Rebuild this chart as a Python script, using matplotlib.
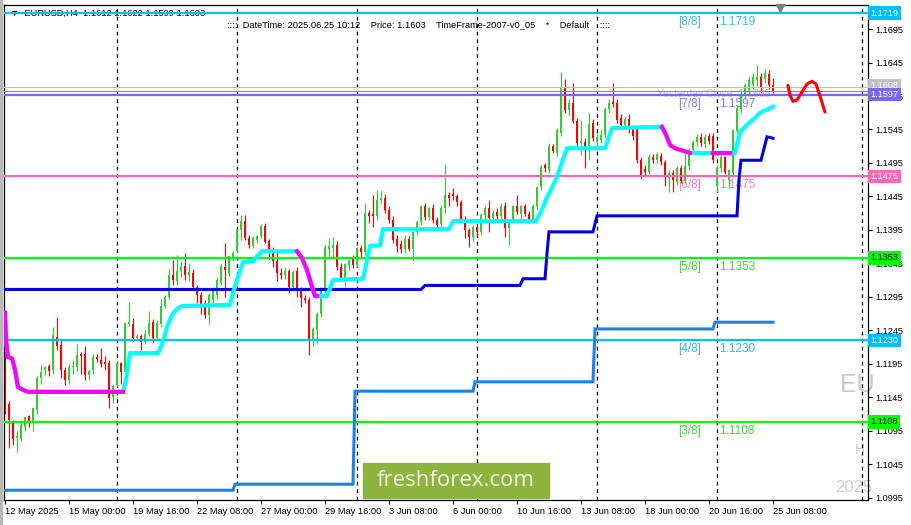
import matplotlib
matplotlib.use("Agg")
import matplotlib.pyplot as plt
import matplotlib.transforms as mtransforms
from matplotlib.patches import Rectangle
import numpy as np

plt.rcParams["font.family"] = ["Liberation Sans", "DejaVu Sans"]

# ── EURUSD H4 candles (open, high, low, close), one list per trading week ──
wk_may12 = [
    (1.1265, 1.1272, 1.1120, 1.1135), (1.1135, 1.1140, 1.1069, 1.1111),
    (1.1106, 1.1111, 1.1074, 1.1083), (1.1084, 1.1095, 1.1063, 1.1087),
    (1.1083, 1.1111, 1.1080, 1.1104), (1.1100, 1.1116, 1.1094, 1.1115),
    (1.1117, 1.1119, 1.1100, 1.1110), (1.1109, 1.1131, 1.1095, 1.1129),
    (1.1126, 1.1177, 1.1120, 1.1174), (1.1174, 1.1193, 1.1165, 1.1183),
    (1.1185, 1.1192, 1.1178, 1.1190), (1.1192, 1.1195, 1.1177, 1.1184),
    (1.1185, 1.1250, 1.1180, 1.1238), (1.1235, 1.1265, 1.1216, 1.1222),
    (1.1223, 1.1230, 1.1174, 1.1185), (1.1186, 1.1190, 1.1163, 1.1171),
    (1.1170, 1.1195, 1.1165, 1.1190), (1.1190, 1.1200, 1.1180, 1.1192),
    (1.1190, 1.1224, 1.1184, 1.1208), (1.1210, 1.1212, 1.1180, 1.1206),
    (1.1209, 1.1222, 1.1170, 1.1178), (1.1178, 1.1187, 1.1170, 1.1184),
    (1.1185, 1.1210, 1.1180, 1.1205), (1.1205, 1.1210, 1.1197, 1.1202),
    (1.1201, 1.1219, 1.1190, 1.1195), (1.1198, 1.1207, 1.1185, 1.1195),
    (1.1196, 1.1200, 1.1129, 1.1144), (1.1145, 1.1165, 1.1137, 1.1162),
]
wk_may19 = [
    (1.1163, 1.1198, 1.1160, 1.1196), (1.1196, 1.1198, 1.1165, 1.1183),
    (1.1183, 1.1258, 1.1180, 1.1256), (1.1255, 1.1287, 1.1252, 1.1257),
    (1.1255, 1.1264, 1.1229, 1.1234), (1.1233, 1.1240, 1.1230, 1.1237),
    (1.1237, 1.1240, 1.1215, 1.1227), (1.1228, 1.1247, 1.1225, 1.1240),
    (1.1240, 1.1274, 1.1237, 1.1256), (1.1257, 1.1262, 1.1227, 1.1233),
    (1.1234, 1.1260, 1.1230, 1.1256), (1.1255, 1.1292, 1.1250, 1.1282),
    (1.1282, 1.1297, 1.1278, 1.1295), (1.1295, 1.1337, 1.1292, 1.1328),
    (1.1328, 1.1350, 1.1313, 1.1320), (1.1318, 1.1357, 1.1313, 1.1334),
    (1.1334, 1.1349, 1.1324, 1.1340), (1.1341, 1.1360, 1.1320, 1.1328),
    (1.1328, 1.1345, 1.1318, 1.1332), (1.1331, 1.1336, 1.1306, 1.1310),
    (1.1310, 1.1313, 1.1285, 1.1298), (1.1298, 1.1302, 1.1270, 1.1283),
    (1.1285, 1.1290, 1.1263, 1.1268), (1.1268, 1.1300, 1.1255, 1.1297),
    (1.1290, 1.1310, 1.1285, 1.1307), (1.1297, 1.1325, 1.1292, 1.1320),
    (1.1316, 1.1345, 1.1312, 1.1341), (1.1340, 1.1375, 1.1295, 1.1335),
    (1.1330, 1.1358, 1.1326, 1.1356), (1.1355, 1.1363, 1.1348, 1.1360),
]
wk_may26 = [
    (1.1363, 1.1397, 1.1360, 1.1395), (1.1395, 1.1417, 1.1380, 1.1408),
    (1.1408, 1.1417, 1.1380, 1.1383), (1.1383, 1.1388, 1.1368, 1.1373),
    (1.1371, 1.1386, 1.1368, 1.1383), (1.1380, 1.1388, 1.1376, 1.1386),
    (1.1386, 1.1404, 1.1383, 1.1401), (1.1401, 1.1406, 1.1375, 1.1377),
    (1.1378, 1.1382, 1.1352, 1.1360), (1.1362, 1.1370, 1.1340, 1.1348),
    (1.1348, 1.1365, 1.1318, 1.1330), (1.1331, 1.1338, 1.1322, 1.1328),
    (1.1327, 1.1340, 1.1322, 1.1333), (1.1333, 1.1337, 1.1300, 1.1310),
    (1.1310, 1.1335, 1.1305, 1.1332), (1.1333, 1.1340, 1.1295, 1.1305),
    (1.1305, 1.1310, 1.1280, 1.1293), (1.1293, 1.1298, 1.1285, 1.1290),
    (1.1290, 1.1295, 1.1208, 1.1232), (1.1232, 1.1250, 1.1222, 1.1247),
    (1.1246, 1.1272, 1.1225, 1.1270), (1.1270, 1.1310, 1.1265, 1.1308),
    (1.1308, 1.1372, 1.1300, 1.1370), (1.1366, 1.1383, 1.1353, 1.1371),
    (1.1368, 1.1385, 1.1353, 1.1373), (1.1372, 1.1378, 1.1335, 1.1340),
    (1.1340, 1.1345, 1.1318, 1.1320), (1.1320, 1.1346, 1.1310, 1.1344),
    (1.1342, 1.1352, 1.1335, 1.1349), (1.1351, 1.1358, 1.1338, 1.1343),
]
wk_jun02 = [
    (1.1343, 1.1370, 1.1340, 1.1368), (1.1368, 1.1372, 1.1355, 1.1362),
    (1.1362, 1.1435, 1.1358, 1.1420), (1.1420, 1.1425, 1.1405, 1.1416),
    (1.1419, 1.1447, 1.1400, 1.1416), (1.1416, 1.1455, 1.1410, 1.1440),
    (1.1440, 1.1453, 1.1434, 1.1443), (1.1443, 1.1448, 1.1420, 1.1425),
    (1.1425, 1.1430, 1.1405, 1.1410), (1.1410, 1.1415, 1.1375, 1.1380),
    (1.1382, 1.1388, 1.1362, 1.1371), (1.1374, 1.1380, 1.1360, 1.1366),
    (1.1366, 1.1388, 1.1360, 1.1382), (1.1382, 1.1386, 1.1364, 1.1367),
    (1.1367, 1.1392, 1.1350, 1.1392), (1.1392, 1.1410, 1.1388, 1.1407),
    (1.1407, 1.1432, 1.1403, 1.1430), (1.1430, 1.1435, 1.1410, 1.1414),
    (1.1414, 1.1430, 1.1410, 1.1427), (1.1428, 1.1433, 1.1405, 1.1410),
    (1.1410, 1.1414, 1.1400, 1.1403), (1.1404, 1.1432, 1.1400, 1.1428),
    (1.1428, 1.1494, 1.1420, 1.1447), (1.1447, 1.1452, 1.1430, 1.1442),
    (1.1448, 1.1458, 1.1440, 1.1445), (1.1445, 1.1449, 1.1430, 1.1436),
    (1.1437, 1.1440, 1.1405, 1.1412), (1.1412, 1.1415, 1.1383, 1.1395),
    (1.1395, 1.1398, 1.1369, 1.1384), (1.1384, 1.1402, 1.1378, 1.1399),
]
wk_jun09 = [
    (1.1399, 1.1405, 1.1385, 1.1392), (1.1392, 1.1420, 1.1388, 1.1417),
    (1.1417, 1.1430, 1.1412, 1.1428), (1.1428, 1.1440, 1.1392, 1.1413),
    (1.1413, 1.1425, 1.1408, 1.1420), (1.1421, 1.1428, 1.1410, 1.1416),
    (1.1416, 1.1435, 1.1412, 1.1431), (1.1431, 1.1436, 1.1385, 1.1398),
    (1.1398, 1.1412, 1.1372, 1.1411), (1.1411, 1.1432, 1.1405, 1.1430),
    (1.1430, 1.1447, 1.1418, 1.1422), (1.1418, 1.1432, 1.1405, 1.1430),
    (1.1430, 1.1434, 1.1415, 1.1419), (1.1419, 1.1423, 1.1405, 1.1411),
    (1.1411, 1.1433, 1.1406, 1.1430), (1.1430, 1.1460, 1.1425, 1.1459),
    (1.1459, 1.1492, 1.1455, 1.1489), (1.1492, 1.1495, 1.1482, 1.1487),
    (1.1485, 1.1525, 1.1480, 1.1520), (1.1520, 1.1524, 1.1510, 1.1513),
    (1.1510, 1.1547, 1.1505, 1.1544), (1.1540, 1.1631, 1.1535, 1.1608),
    (1.1608, 1.1620, 1.1570, 1.1574), (1.1574, 1.1590, 1.1565, 1.1584),
    (1.1584, 1.1615, 1.1555, 1.1557), (1.1557, 1.1562, 1.1518, 1.1525),
    (1.1525, 1.1559, 1.1507, 1.1528), (1.1527, 1.1532, 1.1487, 1.1515),
    (1.1515, 1.1569, 1.1499, 1.1553), (1.1554, 1.1560, 1.1528, 1.1532),
]
wk_jun16 = [
    (1.1527, 1.1540, 1.1520, 1.1534), (1.1530, 1.1545, 1.1525, 1.1537),
    (1.1537, 1.1578, 1.1532, 1.1575), (1.1575, 1.1590, 1.1570, 1.1584),
    (1.1586, 1.1615, 1.1578, 1.1583), (1.1585, 1.1590, 1.1555, 1.1559),
    (1.1562, 1.1568, 1.1548, 1.1552), (1.1552, 1.1565, 1.1548, 1.1561),
    (1.1561, 1.1568, 1.1540, 1.1548), (1.1548, 1.1552, 1.1530, 1.1535),
    (1.1545, 1.1550, 1.1495, 1.1499), (1.1499, 1.1504, 1.1472, 1.1477),
    (1.1486, 1.1492, 1.1475, 1.1481), (1.1481, 1.1508, 1.1478, 1.1504),
    (1.1504, 1.1508, 1.1495, 1.1499), (1.1499, 1.1512, 1.1495, 1.1508),
    (1.1506, 1.1510, 1.1492, 1.1497), (1.1497, 1.1500, 1.1460, 1.1477),
    (1.1472, 1.1485, 1.1452, 1.1480), (1.1480, 1.1484, 1.1452, 1.1470),
    (1.1466, 1.1490, 1.1462, 1.1488), (1.1488, 1.1492, 1.1465, 1.1468),
    (1.1468, 1.1510, 1.1465, 1.1490), (1.1490, 1.1518, 1.1485, 1.1515),
    (1.1514, 1.1530, 1.1510, 1.1526), (1.1526, 1.1538, 1.1520, 1.1534),
    (1.1534, 1.1540, 1.1520, 1.1525), (1.1524, 1.1538, 1.1518, 1.1534),
    (1.1536, 1.1540, 1.1524, 1.1528), (1.1536, 1.1540, 1.1495, 1.1499),
]
wk_jun23 = [
    (1.1460, 1.1490, 1.1452, 1.1487), (1.1487, 1.1508, 1.1482, 1.1504),
    (1.1504, 1.1506, 1.1478, 1.1481), (1.1470, 1.1486, 1.1458, 1.1484),
    (1.1480, 1.1546, 1.1476, 1.1544), (1.1542, 1.1580, 1.1538, 1.1577),
    (1.1576, 1.1602, 1.1570, 1.1598), (1.1598, 1.1615, 1.1590, 1.1611),
    (1.1604, 1.1625, 1.1598, 1.1619), (1.1611, 1.1630, 1.1605, 1.1623),
    (1.1619, 1.1641, 1.1610, 1.1624), (1.1623, 1.1630, 1.1600, 1.1608),
    (1.1620, 1.1636, 1.1615, 1.1629), (1.1628, 1.1634, 1.1605, 1.1612),
    (1.1612, 1.1622, 1.1599, 1.1603),
]

# trailing stop line (bar index, price); spans in dn_spans are drawn magenta
trail_k = [0, 0.25, 0.75, 1.75, 2.5, 3.25, 4.5, 5.75, 29.5, 30.25, 30.75, 31.25,
           38.25, 39, 39.75, 40.5, 41.75, 43.25, 44.25, 56.25, 57, 58, 59.5, 62,
           63.25, 64.25, 73, 74.25, 75.5, 76.75, 77.5, 78, 80.5, 81.25, 82, 89.5,
           90.25, 91.25, 93.75, 94.5, 111, 112, 132.75, 134.25, 135.5, 136.75, 138,
           139.25, 140.5, 150, 151, 151.75, 164.25, 165.25, 166.25, 167.5, 171.25,
           177, 181.25, 182.5, 183.75, 185, 186.25, 187.5, 188.75, 190.25, 192]
trail_p = [1.1271, 1.1230, 1.1205, 1.1203, 1.1186, 1.1160, 1.1156, 1.1153, 1.1153,
           1.1171, 1.1193, 1.1211, 1.1211, 1.1220, 1.1233, 1.1250, 1.1268, 1.1278,
           1.1281, 1.1283, 1.1301, 1.1320, 1.1347, 1.1348, 1.1357, 1.1363, 1.1363,
           1.1353, 1.1335, 1.1310, 1.1296, 1.1296, 1.1296, 1.1308, 1.1320, 1.1322,
           1.1342, 1.1371, 1.1372, 1.1396, 1.1396, 1.1408, 1.1408, 1.1425, 1.1444,
           1.1458, 1.1474, 1.1496, 1.1517, 1.1517, 1.1534, 1.1547, 1.1549, 1.1537,
           1.1522, 1.1517, 1.1510, 1.1510, 1.1510, 1.1510, 1.1541, 1.1549, 1.1556,
           1.1562, 1.1570, 1.1574, 1.1579]
dn_spans = [(0, 29.5), (73, 78), (164.25, 171.25), (177, 181.25)]

# step lines
blue_k = [0, 104, 105, 128.75, 129.5, 135, 135.5, 136, 147, 148, 183, 183.5, 184,
          189, 190.5, 192]
blue_p = [1.1306, 1.1306, 1.1312, 1.1312, 1.1322, 1.1322, 1.1360, 1.1392, 1.1392,
          1.1416, 1.1416, 1.1470, 1.1499, 1.1499, 1.1534, 1.1532]
dodger_k = [0, 57, 57.5, 87, 87.5, 117, 117.5, 147, 147.5, 177, 177.5, 192]
dodger_p = [1.1006, 1.1006, 1.1015, 1.1015, 1.1154, 1.1154, 1.1168, 1.1168,
            1.1247, 1.1247, 1.1257, 1.1257]

# forecast scribble
fc_k = [195.75, 196.25, 197, 198, 199.25, 200.5, 201.75, 202.75, 203.75, 205]
fc_p = [1.1611, 1.1596, 1.1587, 1.1589, 1.1601, 1.1613, 1.1617, 1.1613, 1.1595, 1.1571]

# Murrey levels
mm_names = ["[8/8]", "[7/8]", "[6/8]", "[5/8]", "[4/8]", "[3/8]"]
mm_levels = [1.1719, 1.1597, 1.1475, 1.1353, 1.1230, 1.1108]
mm_colors = ["#00BFFF", "#7B68EE", "#FF69B4", "#00FF00", "#00BFFF", "#00FF00"]
mm_text_colors = ["#3DB4FF", "#8C7CF0", "#FF77BB", "#33DD33", "#33B4FF", "#33DD33"]
mm_box_text = ["white", "white", "white", "black", "white", "black"]

bid_price = 1.1603
yclose_price = 1.1608

week_starts = [28, 58, 88, 118, 148, 178]
tick_bars = [0, 16, 32, 48, 64, 80, 96, 112, 128, 144, 160, 176, 192]
tick_labels = ["12 May 2025", "15 May 00:00", "19 May 16:00", "22 May 08:00",
               "27 May 00:00", "29 May 16:00", "3 Jun 08:00", "6 Jun 00:00",
               "10 Jun 16:00", "13 Jun 08:00", "18 Jun 00:00", "20 Jun 16:00",
               "25 Jun 08:00"]

BULL, BEAR = "#32CD32", "#FF0000"

W, H = 911, 525
AX_L, AX_R, AX_T, AX_B = 4, 868, 5, 500

fig = plt.figure(figsize=(W / 100, H / 100), dpi=100)
fig.patch.set_facecolor("white")
ax = fig.add_axes([AX_L / W, 1 - AX_B / H, (AX_R - AX_L) / W, (AX_B - AX_T) / H])
ax.set_xlim(-0.25, 215.75)
ax.set_ylim(1.09914, 1.17310)

# ── candles ──
candles = wk_may12 + wk_may19 + wk_may26 + wk_jun02 + wk_jun09 + wk_jun16 + wk_jun23
o, h, l, c = (np.array(v) for v in zip(*candles))
x = np.arange(len(candles))
cols = np.where(c >= o, BULL, BEAR)
ax.vlines(x, l, h, colors=cols, lw=0.8, zorder=2)
ax.bar(x, np.maximum(np.abs(c - o), 0.00008), bottom=np.minimum(o, c), width=0.72,
       color=cols, linewidth=0, zorder=2)

# ── week separators ──
for k in week_starts:
    ax.axvline(k, color="black", lw=0.9, ls=(0, (3, 3)), zorder=1)
ax.axvline(214.25, color="black", lw=0.9, ls=(0, (3, 3)), zorder=1)

# ── levels ──
blend = mtransforms.blended_transform_factory(ax.transAxes, ax.transData)
for name, lv, col, tcol, btxt in zip(mm_names, mm_levels, mm_colors, mm_text_colors, mm_box_text):
    ax.axhline(lv, color=col, lw=1.6, zorder=3)
    ax.annotate(name, xy=(168.3, lv), xytext=(0, -3), textcoords="offset pixels",
                va="top", ha="left", fontsize=8.5, color=tcol, zorder=1)
    ax.annotate(f"{lv:.4f}", xy=(178.5, lv), xytext=(0, -3), textcoords="offset pixels",
                va="top", ha="left", fontsize=8.5, color=tcol, zorder=1)
    ax.text(1.003, lv, f"{lv:.4f}", transform=blend, va="center", ha="left",
            fontsize=6.6, color=btxt, clip_on=False, zorder=10,
            bbox=dict(boxstyle="square,pad=0.25", fc=col, ec="none"))
ax.axhline(yclose_price, color="#C0C0C0", lw=0.8, zorder=3)
ax.axhline(bid_price, color="#8090A0", lw=0.8, zorder=3)
ax.text(1.003, yclose_price + 0.00025, f"{yclose_price:.4f}", transform=blend, va="center",
        ha="left", fontsize=6.6, color="white", clip_on=False, zorder=9,
        bbox=dict(boxstyle="square,pad=0.25", fc="#C0C0C0", ec="none"))
ax.annotate(f"Yesterday Close  {yclose_price:.4f}", xy=(163, yclose_price), xytext=(0, -2),
            textcoords="offset pixels", va="top", ha="left", fontsize=7.5,
            color="#C8C8C8", zorder=1)

# ── step lines ──
ax.plot(dodger_k, dodger_p, color="#1E7FF0", lw=2.2, zorder=4, solid_joinstyle="miter")
ax.plot(blue_k, blue_p, color="#0000E0", lw=2.2, zorder=4, solid_joinstyle="miter")

# ── trailing line ──
ax.plot(trail_k, trail_p, color="#00FFFF", lw=3, zorder=5)
tk, tp = np.array(trail_k), np.array(trail_p)
for a, b in dn_spans:
    m = (tk >= a) & (tk <= b)
    ax.plot(tk[m], tp[m], color="#FF00FF", lw=3, zorder=5)

# ── forecast ──
ax.plot(fc_k, fc_p, color="#FF0000", lw=2.2, zorder=6, solid_capstyle="round")

# ── axes styling ──
ax.yaxis.tick_right()
yt = np.arange(1.0995, 1.1700, 0.005)
ax.set_yticks(yt)
ax.set_yticklabels([f"{v:.4f}" for v in yt])
ax.tick_params(axis="y", direction="out", length=3, width=0.8, labelsize=6.6, pad=2)
ax.set_xticks(tick_bars)
ax.set_xticklabels(tick_labels, ha="left")
ax.tick_params(axis="x", direction="out", length=3, width=0.8, labelsize=6.7, pad=2)
for s in ax.spines.values():
    s.set_linewidth(0.9)
    s.set_color("black")

# ── watermark (only the part that shows left of the price scale) ──
ax.text(840, H - 385, "EU", transform=None, fontsize=18, color="#C8C8C8", va="center",
        ha="left", zorder=0)
ax.text(855, H - 450, "H", transform=None, fontsize=10, color="#C8C8D0", va="center",
        ha="left", zorder=0)
ax.text(835, H - 487, "2025", transform=None, fontsize=12, color="#D0D0D0", va="center",
        ha="left", zorder=0)

# ── header ──
ax.text(6 / 864, 1 - 8 / 495, "\u25BC  EURUSD,H4  1.1612 1.1622 1.1599 1.1603",
        transform=ax.transAxes, fontsize=6.7, va="center", ha="left", zorder=1)
ax.text(223 / 864, 1 - 20 / 495,
        "::::  DateTime: 2025.06.25 10:12    Price: 1.1603    TimeFrame-2007-v0_05    *    Default    ::::",
        transform=ax.transAxes, fontsize=6.7, va="center", ha="left", zorder=1)
ax.plot([776 / 864], [1 - 3 / 495], marker="v", color="#808080", ms=6,
        transform=ax.transAxes, clip_on=False, zorder=10)

# ── logo ──
fig.add_artist(Rectangle((363 / W, 1 - 498 / H), 186 / W, 35 / H,
                         transform=fig.transFigure, color="#8CB43F", zorder=20))
fig.text(456 / W, 1 - 481 / H, "freshforex.com", fontsize=16, color="#F2F6E4",
         family=["Open Sans", "DejaVu Sans"], ha="center", va="center", zorder=21)

# window border strips
fig.add_artist(Rectangle((0, 0), 2 / W, 1, transform=fig.transFigure,
                         color="#B8B8B8", zorder=0))

fig.savefig("out.png", dpi=100)
